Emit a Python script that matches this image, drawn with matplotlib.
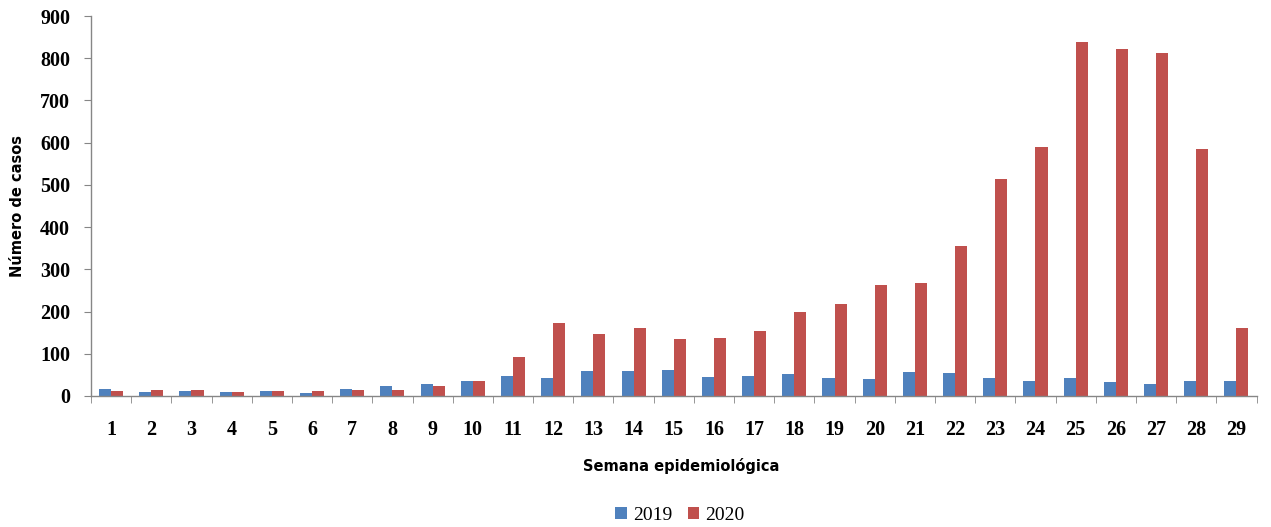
import numpy as np
import matplotlib
matplotlib.use('Agg')
import matplotlib.pyplot as plt
from matplotlib.ticker import MultipleLocator, FixedLocator

# casos por semana epidemiológica
semanas = list(range(1, 30))
casos_2019 = [17, 9, 12, 9, 12, 7, 17, 23, 28, 35, 48, 43, 59, 59, 62, 45, 48, 51, 43,
              40, 57, 54, 43, 35, 43, 32, 28, 35, 35]
casos_2020 = [12, 15, 15, 9, 12, 12, 15, 15, 23, 35, 92, 173, 148, 162, 134, 137, 153, 200, 217,
              264, 267, 355, 513, 590, 838, 823, 813, 585, 162]

AZUL = '#4F81BD'
ROJO = '#C0504D'
GRIS = '#868686'

fig = plt.figure(figsize=(12.71, 5.27), dpi=100)
ax = fig.add_axes([0.0716, 0.2486, 0.9170, 0.7210])

x = np.arange(len(semanas))
w = 0.3
ax.bar(x - w / 2, casos_2019, width=w, color=AZUL, label='2019')
ax.bar(x + w / 2, casos_2020, width=w, color=ROJO, label='2020')

ax.set_xlim(-0.5, len(semanas) - 0.5)
ax.set_ylim(0, 900)
ax.yaxis.set_major_locator(MultipleLocator(100))

ax.set_xticks(x)
ax.set_xticklabels([str(s) for s in semanas])
ax.xaxis.set_minor_locator(FixedLocator(np.arange(-0.5, len(semanas), 1.0)))
ax.tick_params(axis='x', which='major', length=0, pad=17)
ax.tick_params(axis='x', which='minor', length=5, color=GRIS, direction='out')
ax.tick_params(axis='y', length=5, color=GRIS, pad=10)

for lab in ax.get_xticklabels() + ax.get_yticklabels():
    lab.set_fontfamily('Liberation Serif')
    lab.set_fontsize(14.5)
    lab.set_fontweight('bold')

for s in ['top', 'right']:
    ax.spines[s].set_visible(False)
for s in ['left', 'bottom']:
    ax.spines[s].set_color(GRIS)
    ax.spines[s].set_linewidth(1.0)

ax.set_ylabel('Número de casos', fontsize=10.5, fontweight='bold', family='DejaVu Sans')
ax.yaxis.set_label_coords(-0.057, 0.5)
fig.text(0.536, 0.115, 'Semana epidemiológica', ha='center', va='center',
         fontsize=10.5, fontweight='bold', family='DejaVu Sans')

leg = fig.legend(loc='center', bbox_to_anchor=(0.535, 0.022), ncol=2, frameon=False,
                 handlelength=0.6, handleheight=0.6, handletextpad=0.3, columnspacing=0.8,
                 prop={'family': 'Liberation Serif', 'size': 14})

fig.savefig('out.png', dpi=100, facecolor='white')
